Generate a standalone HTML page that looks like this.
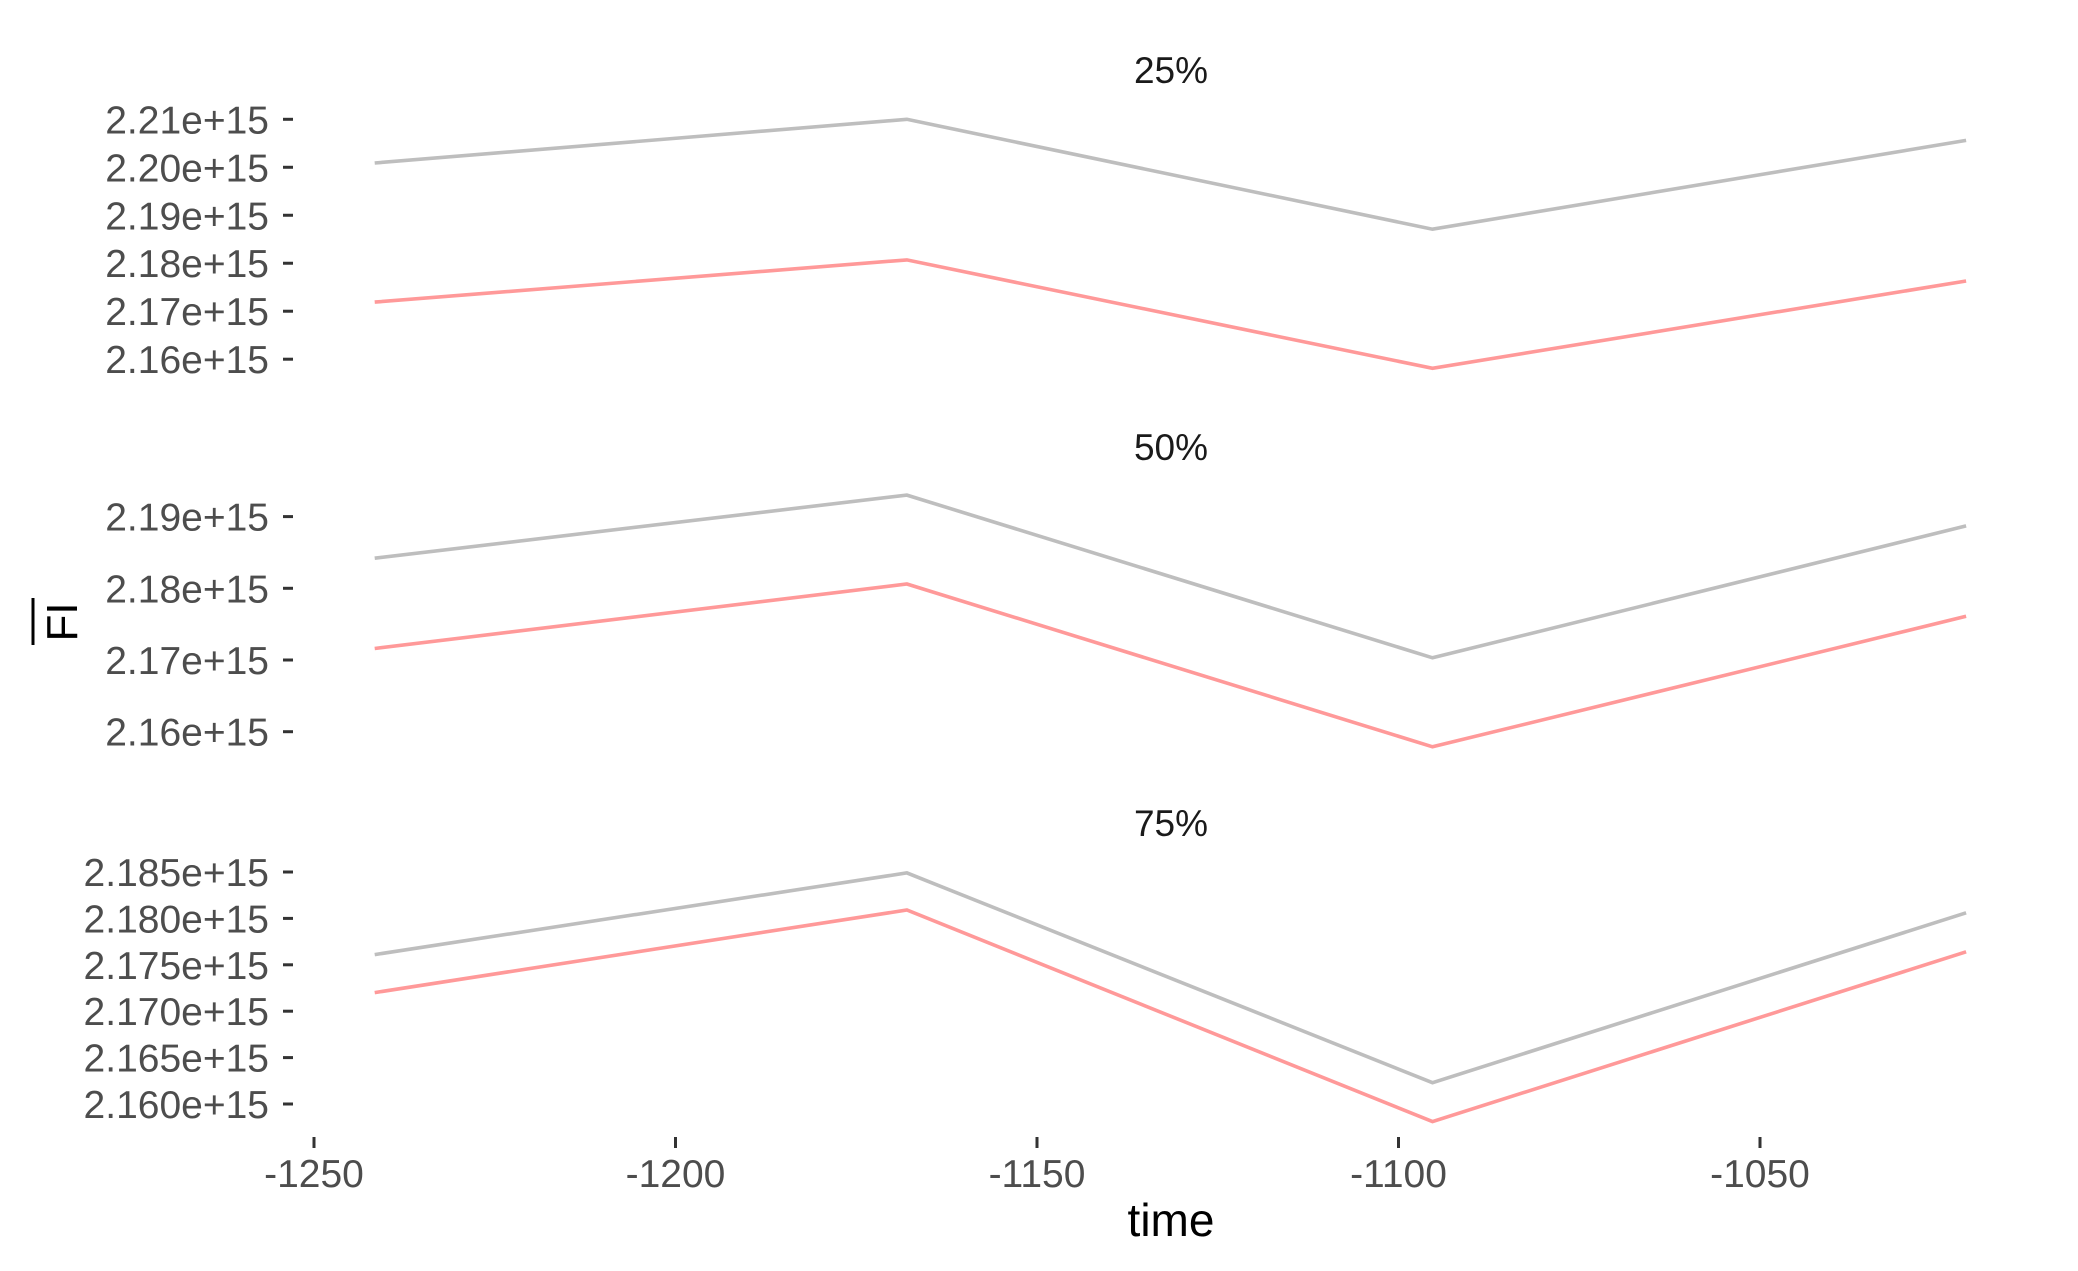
<!DOCTYPE html>
<html><head><meta charset="utf-8"><style>
html,body{margin:0;padding:0;background:#fff;}
svg{display:block;font-family:"Liberation Sans",Arial,sans-serif;}
</style></head><body>
<svg id="chart" width="2078" height="1271" viewBox="0 0 2078 1271" xmlns="http://www.w3.org/2000/svg"></svg>
<script>
const times = [-1241.6, -1168, -1095.3, -1021.5];
const panelTitles = ["25%", "50%", "75%"];
const greyP1 = [2.2009, 2.2100, 2.1871, 2.2056];
const redP1 = [2.1719, 2.1807, 2.1581, 2.1763];
const greyP2 = [2.1842, 2.1930, 2.1703, 2.1887];
const redP2 = [2.1716, 2.1806, 2.1579, 2.1761];
const greyP3 = [2.1761, 2.1849, 2.1623, 2.1806];
const redP3 = [2.1720, 2.1809, 2.1581, 2.1764];
const ticksP1 = [2.21, 2.20, 2.19, 2.18, 2.17, 2.16];
const ticksP2 = [2.19, 2.18, 2.17, 2.16];
const ticksP3 = [2.185, 2.180, 2.175, 2.170, 2.165, 2.160];
const xTicks = [-1250, -1200, -1150, -1100, -1050];

const NS = "http://www.w3.org/2000/svg";
const svg = document.getElementById("chart");
function mk(tag, attrs, parent) {
  const e = document.createElementNS(NS, tag);
  for (const k in attrs) e.setAttribute(k, attrs[k]);
  (parent || svg).appendChild(e);
  return e;
}
function xScale(v) { return 314 + (v + 1250) / 50 * 361.5; }

const panels = [
  {title: panelTitles[0], titleY: 70, grey: greyP1, red: redP1, ticks: ticksP1, fmt: 2, v0: 2.21, y0: 119.3, v1: 2.16, y1: 359.2},
  {title: panelTitles[1], titleY: 447, grey: greyP2, red: redP2, ticks: ticksP2, fmt: 2, v0: 2.19, y0: 516.6, v1: 2.16, y1: 731.7},
  {title: panelTitles[2], titleY: 823, grey: greyP3, red: redP3, ticks: ticksP3, fmt: 3, v0: 2.185, y0: 872, v1: 2.16, y1: 1104}
];

panels.forEach((p, i) => {
  const g = mk("g", {});
  
  
  const yS = v => p.y0 + (v - p.v0) / (p.v1 - p.v0) * (p.y1 - p.y0);
  const t = mk("text", {x: 1171, y: p.titleY + 13, "text-anchor": "middle", "font-size": 37, fill: "#1a1a1a"}, g);
  t.textContent = p.title;
  
  
  p.ticks.forEach(v => {
    const y = yS(v);
    const tk = mk("line", {x1: 283, x2: 293, y1: y, y2: y, stroke: "#333", "stroke-width": 3}, g);
    
    
    const lb = mk("text", {x: 269, y: y + 14, "text-anchor": "end", "font-size": 39, fill: "#4d4d4d"}, g);
    lb.textContent = v.toFixed(p.fmt) + "e+15";
    
    
  });
  [[p.grey, "#bebebe", "grey-series"], [p.red, "#ff9999", "red-series"]].forEach(([vals, col, nm]) => {
    const pts = vals.map((v, j) => xScale(times[j]).toFixed(1) + "," + yS(v).toFixed(1)).join(" ");
    const pl = mk("polyline", {points: pts, fill: "none", stroke: col, "stroke-width": 3.6}, g);
    
    
  });
});

xTicks.forEach(v => {
  const x = xScale(v);
  const tk = mk("line", {x1: x, x2: x, y1: 1137, y2: 1148, stroke: "#333", "stroke-width": 3});
  
  
  const lb = mk("text", {x: x, y: 1187, "text-anchor": "middle", "font-size": 39, fill: "#4d4d4d"});
  lb.textContent = String(v);
  
  
});

const xt = mk("text", {x: 1171, y: 1236, "text-anchor": "middle", "font-size": 46, fill: "#000"});
xt.textContent = "time";



const yt = mk("text", {x: 0, y: 0, "text-anchor": "middle", "font-size": 44, fill: "#000", transform: "translate(77,622) rotate(-90)"});
yt.textContent = "FI";


const ol = mk("line", {x1: 33, x2: 33, y1: 598, y2: 645, stroke: "#000", "stroke-width": 3});


</script>
</body></html>
